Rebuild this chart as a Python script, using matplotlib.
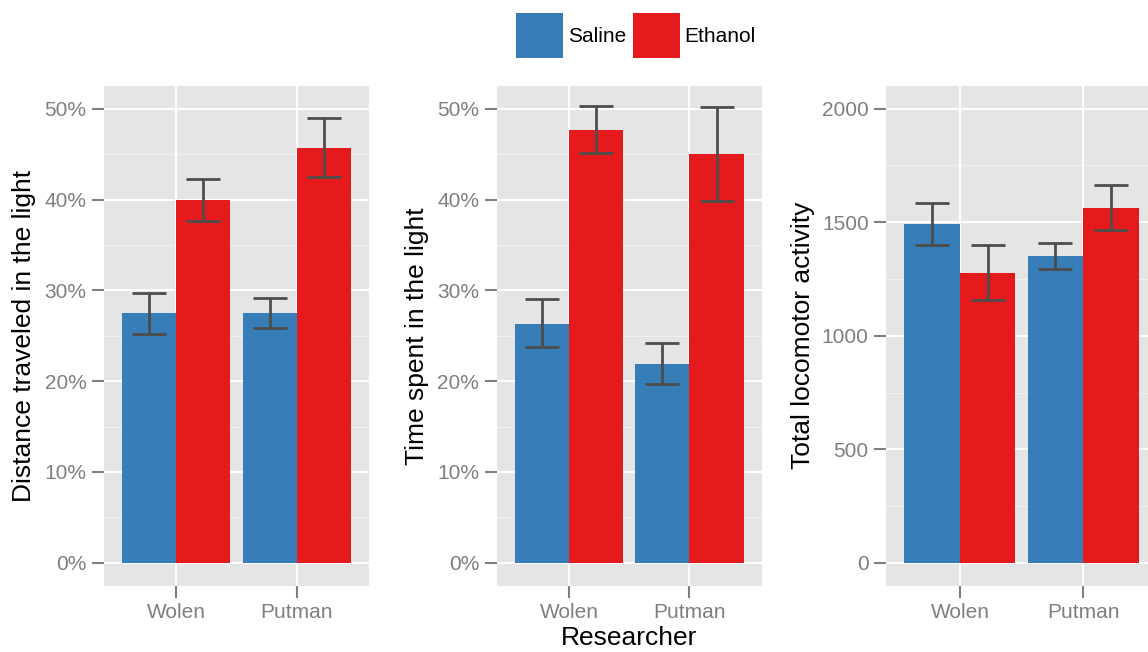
import numpy as np
import matplotlib
matplotlib.use("Agg")
import matplotlib.pyplot as plt
from matplotlib.ticker import MultipleLocator, FixedLocator, FuncFormatter

plt.rcParams["font.family"] = ["Liberation Sans", "DejaVu Sans"]

RESEARCHERS = ["Wolen", "Putman"]
TREATMENTS = ["Saline", "Ethanol"]
COLORS = {"Saline": "#377EB8", "Ethanol": "#E41A1C"}

# distance traveled in the light (%), mean and error bounds
dist_mean = {"Saline": [27.5, 27.5], "Ethanol": [39.9, 45.7]}
dist_low = {"Saline": [25.2, 25.8], "Ethanol": [37.6, 42.5]}
dist_high = {"Saline": [29.7, 29.2], "Ethanol": [42.3, 49.0]}

# time spent in the light (%)
time_mean = {"Saline": [26.3, 21.9], "Ethanol": [47.7, 45.0]}
time_low = {"Saline": [23.8, 19.7], "Ethanol": [45.1, 39.8]}
time_high = {"Saline": [29.0, 24.2], "Ethanol": [50.3, 50.2]}

# total locomotor activity
loco_mean = {"Saline": [1492, 1350], "Ethanol": [1277, 1563]}
loco_low = {"Saline": [1401, 1296], "Ethanol": [1157, 1465]}
loco_high = {"Saline": [1583, 1410], "Ethanol": [1398, 1663]}

BG = "#E5E5E5"
GRID_MINOR = "#F2F2F2"
TICK_GREY = "#7F7F7F"
ERR_COL = "#4D4D4D"
W, H = 1148, 652


def draw_panel(ax, mean, low, high, top, step, ylabel, pct, label_x):
    x = np.arange(len(RESEARCHERS))
    bw = 0.45
    for i, t in enumerate(TREATMENTS):
        xs = x + (i - 0.5) * bw
        m = np.array(mean[t])
        ax.bar(xs, m, width=bw, color=COLORS[t], label=t, zorder=2)
        yerr = np.vstack([m - np.array(low[t]), np.array(high[t]) - m])
        ax.errorbar(xs, m, yerr=yerr, fmt="none", ecolor=ERR_COL,
                    elinewidth=2.0, capsize=12, capthick=2.0, zorder=3)

    ax.set_facecolor(BG)
    for s in ax.spines.values():
        s.set_visible(False)
    ax.set_xlim(-0.6, 1.6)
    ax.set_ylim(-0.05 * top, 1.05 * top)
    ax.set_xticks(x)
    ax.set_xticklabels(RESEARCHERS)
    ax.yaxis.set_major_locator(MultipleLocator(step))
    # minor gridlines only between the major breaks
    ax.yaxis.set_minor_locator(FixedLocator(np.arange(step / 2, top, step)))
    if pct:
        ax.yaxis.set_major_formatter(FuncFormatter(lambda v, p: f"{v:.0f}%"))
    ax.grid(True, which="major", color="white", lw=1.4, zorder=0)
    ax.grid(True, which="minor", axis="y", color=GRID_MINOR, lw=0.7, zorder=0)
    ax.set_axisbelow(True)
    ax.tick_params(which="major", length=8.5, width=1.5, color=TICK_GREY,
                   labelcolor=TICK_GREY, labelsize=15, pad=4)
    ax.tick_params(which="minor", length=0)
    pos = ax.get_position()
    ax.figure.text(label_x / W, pos.y0 + pos.height / 2, ylabel,
                   rotation=90, ha="center", va="center", fontsize=19)


fig = plt.figure(figsize=(W / 100, H / 100), dpi=100)
bottom = (H - 585.5) / H
height = 499.5 / H
ax1 = fig.add_axes([104 / W, bottom, 265 / W, height])
ax2 = fig.add_axes([496.7 / W, bottom, 265 / W, height])
ax3 = fig.add_axes([886 / W, bottom, 271 / W, height])

draw_panel(ax1, dist_mean, dist_low, dist_high, 50, 10,
           "Distance traveled in the light", True, 24)
draw_panel(ax2, time_mean, time_low, time_high, 50, 10,
           "Time spent in the light", True, 417)
draw_panel(ax3, loco_mean, loco_low, loco_high, 2000, 500,
           "Total locomotor activity", False, 803)

ax2.set_xlabel("Researcher", fontsize=19, labelpad=3)

handles, labels = ax1.get_legend_handles_labels()
fig.legend(handles[:2], labels[:2], loc="center", ncol=2, frameon=False,
           bbox_to_anchor=(636 / W, 1 - 35.5 / H), fontsize=15,
           handlelength=2.25, handleheight=3.0, handletextpad=0.25,
           columnspacing=0.3, borderpad=0)

fig.savefig("out.png", dpi=100)
